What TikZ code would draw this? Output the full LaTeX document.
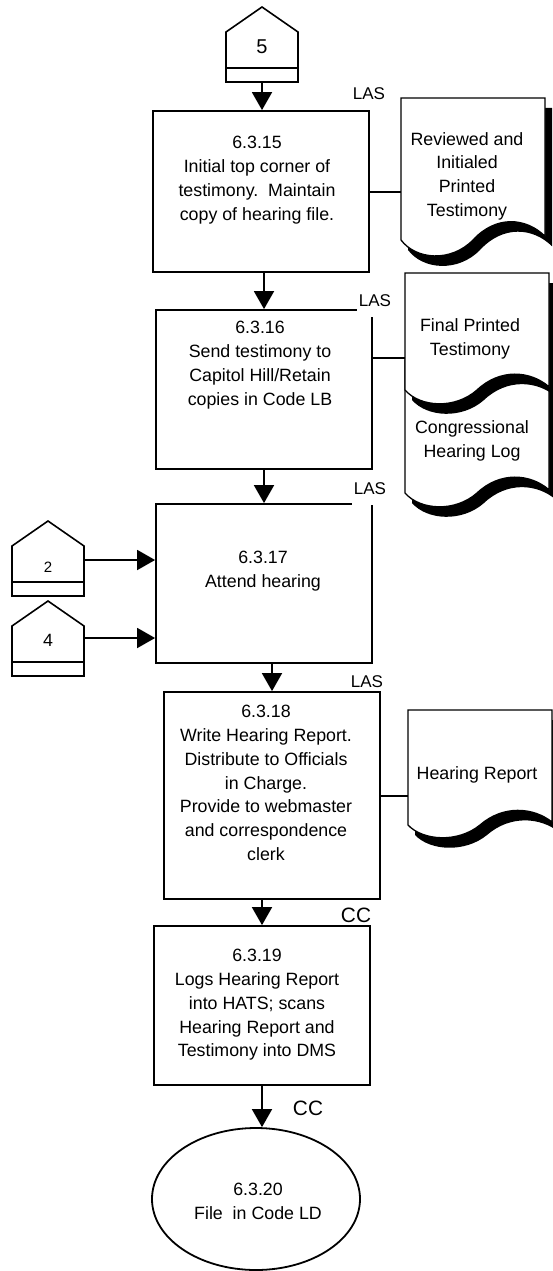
\documentclass[tikz,border=0pt]{standalone}
\usepackage{fontspec}
\setmainfont{Liberation Sans}
\usetikzlibrary{arrows.meta,shapes.geometric,calc}

% off-page connector: name, cx, shoulderY, textY, text, fontsize
\newcommand{\offpage}[6]{%
  \draw[conn] ({#2-36},#3) -- (#2,{#3-25}) -- ({#2+36},#3) -- ({#2+36},{#3+50}) -- ({#2-36},{#3+50}) -- cycle;
  \draw[conn] ({#2-36},{#3+36}) -- ({#2+36},{#3+36});
  \node[font=\fontsize{#6}{#6}\selectfont] (#1) at (#2,#4) {#5};
  \coordinate (#1-b) at (#2,{#3+50});
}
% document shape: style, L, T, h, amplitude
\newcommand{\docdraw}[5]{%
  \path[#1] (#2,#3) -- ({#2+144},#3) -- ({#2+144},{#3+#4-0.25*#5})
   .. controls ({#2+125},{#3+#4-1.5*#5}) and ({#2+95},{#3+#4-1.67*#5}) .. ({#2+72},{#3+#4})
   .. controls ({#2+50},{#3+#4+1.5*#5}) and ({#2+15},{#3+#4+1.33*#5}) .. (#2,{#3+#4}) -- cycle;}

\begin{document}
\begin{tikzpicture}[x=1pt,y=-1pt,
  every node/.style={inner sep=0pt},
  proc/.style={draw, line width=1.8pt, minimum width=216pt, fill=white},
  conn/.style={line width=1.6pt, line join=miter},
  link/.style={line width=1.8pt},
  arr/.style={line width=1.8pt, -{Triangle[length=18pt,width=20pt]}},
  txt/.style={align=center, font=\fontsize{17.8}{23.8}\selectfont},
  lab/.style={font=\fontsize{17}{17}\selectfont},
  cclab/.style={font=\fontsize{20.8}{20.8}\selectfont},
  docline/.style={draw, line width=1.3pt, fill=white},
  docshadow/.style={fill=black, shift={(7,10)}}]
\useasboundingbox[fill=white] (0,0) rectangle (552,1271);

% process boxes
\node[proc, minimum height=161pt] (b1) at (261,191.5) {};
\node[proc, minimum height=159pt] (b2) at (264,389.5) {};
\node[proc, minimum height=159pt] (b3) at (264,583.5) {};
\node[proc, minimum height=207pt] (b4) at (272,795.5) {};
\node[proc, minimum height=159pt] (b5) at (262,1005.5) {};
\node[ellipse, draw, line width=1.8pt, minimum width=208pt, minimum height=142pt] (e) at (256,1199) {};

\node[txt] (t1) at (257,180) {6.3.15\\Initial top corner of\\testimony.\ \ Maintain\\copy of hearing file.};
\node[txt] (t2) at (260,365) {6.3.16\\Send testimony to\\Capitol Hill/Retain\\copies in Code LB};
\node[txt] (t3) at (263,571) {6.3.17\\Attend hearing};
\node[txt] (t4) at (266,783) {6.3.18\\Write Hearing Report.\\Distribute to Officials\\in Charge.\\Provide to webmaster\\and correspondence\\clerk};
\node[txt] (t5) at (257,1005) {6.3.19\\Logs Hearing Report\\into HATS; scans\\Hearing Report and\\Testimony into DMS};
\node[txt] (t6) at (258,1201) {6.3.20\\File\ \ in Code LD};

% labels
\node[lab] (l1) at (369,94) {LAS};
\node[lab, anchor=base, fill=white, text depth=11pt, inner xsep=2pt] (l2) at (375,306) {LAS};
\node[lab, anchor=base, fill=white, text depth=11pt, inner xsep=2pt] (l3) at (370,494) {LAS};
\node[lab] (l4) at (367,682) {LAS};
\node[cclab] (cc1) at (356,915) {CC};
\node[cclab] (cc2) at (308,1108) {CC};

% off-page connectors
\offpage{c5}{262}{32}{47}{5}{20}
\offpage{c2}{48}{546}{567}{2}{15}
\offpage{c4}{48}{626}{640}{4}{17.8}
\coordinate (c2r) at (84,560);
\coordinate (c4r) at (84,638);

% documents
\docdraw{docshadow}{401}{98}{142}{15}
\docdraw{docline}{401}{98}{142}{15}
\docdraw{docshadow}{405}{360}{133}{13}
\docdraw{docline}{405}{360}{133}{13}
\docdraw{docshadow}{405}{273}{117}{13}
\docdraw{docline}{405}{273}{117}{13}
\docdraw{docshadow}{408}{710}{115}{12}
\docdraw{docline}{408}{710}{115}{12}

\node[txt, font=\fontsize{17.8}{23.6}\selectfont] (d1) at (467,176) {Reviewed and\\Initialed\\Printed\\Testimony};
\node[txt, font=\fontsize{17.8}{23.6}\selectfont] (d2) at (470,339) {Final Printed\\Testimony};
\node[txt, font=\fontsize{17.8}{23.6}\selectfont] (d3) at (472,441) {Congressional\\Hearing Log};
\node[txt] (d4) at (477,775) {Hearing Report};
\coordinate (d1-w) at (401,192);
\coordinate (d2-w) at (405,358);
\coordinate (d4-w) at (408,796);

% connectors
\draw[link] (b1.east |- d1-w) -- (d1-w);
\draw[link] (b2.east |- d2-w) -- (d2-w);
\draw[link] (b4.east |- d4-w) -- (d4-w);

\draw[arr] (c5-b) -- (c5-b |- b1.north);
\draw[arr] (b2.north |- b1.south) -- (b2.north);
\draw[arr] (b3.north |- b2.south) -- (b3.north);
\draw[arr] (b4.north |- b3.south) -- (b4.north);
\draw[arr] (b5.north |- b4.south) -- (b5.north);
\draw[arr] (b5.south) -- (b5.south |- e.north);
\draw[arr] (c2r) -- (c2r -| b3.west);
\draw[arr] (c4r) -- (c4r -| b3.west);
\end{tikzpicture}
\end{document}
